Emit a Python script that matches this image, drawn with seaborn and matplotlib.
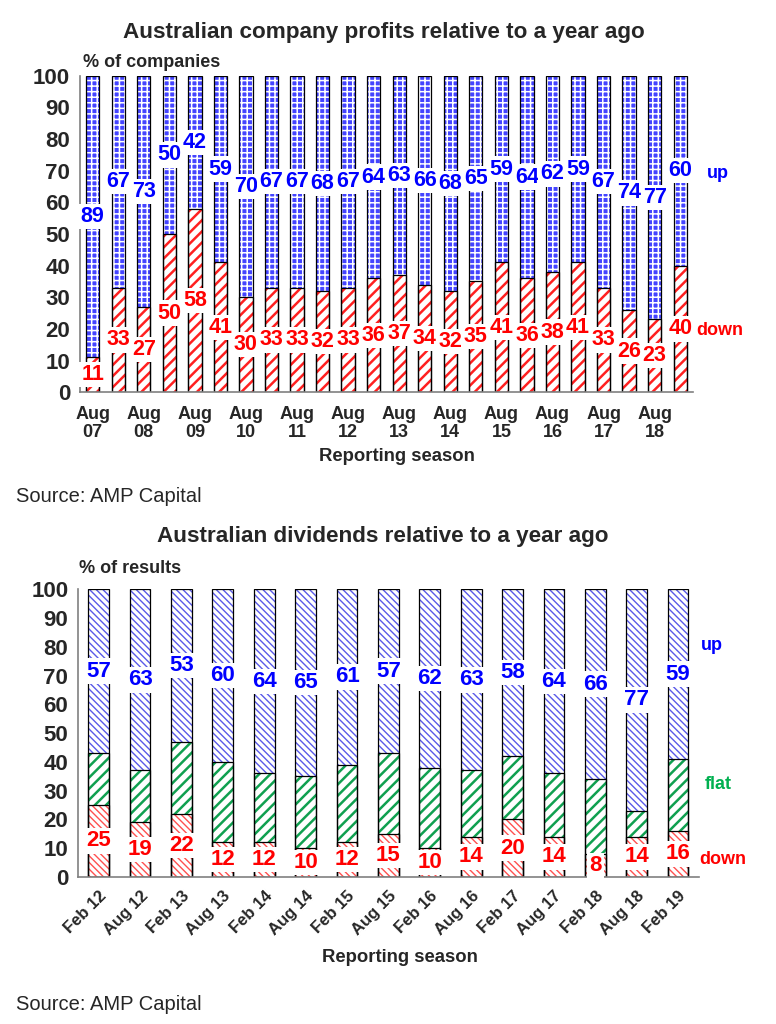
import matplotlib as mpl
import matplotlib.pyplot as plt
import seaborn as sns

sns.set_style("white")
plt.rcParams["font.family"] = ["Liberation Sans", "DejaVu Sans"]

# --- top chart: company profits, % of companies
profit_seasons = ["Aug 07", "Feb 08", "Aug 08", "Feb 09", "Aug 09", "Feb 10", "Aug 10", "Feb 11",
                  "Aug 11", "Feb 12", "Aug 12", "Feb 13", "Aug 13", "Feb 14", "Aug 14", "Feb 15",
                  "Aug 15", "Feb 16", "Aug 16", "Feb 17", "Aug 17", "Feb 18", "Aug 18", "Feb 19"]
profit_down = [11, 33, 27, 50, 58, 41, 30, 33, 33, 32, 33, 36, 37, 34, 32, 35, 41, 36, 38, 41, 33, 26, 23, 40]
profit_up = [89, 67, 73, 50, 42, 59, 70, 67, 67, 68, 67, 64, 63, 66, 68, 65, 59, 64, 62, 59, 67, 74, 77, 60]
profit_ticklabels = ["Aug\n07", "Aug\n08", "Aug\n09", "Aug\n10", "Aug\n11", "Aug\n12",
                     "Aug\n13", "Aug\n14", "Aug\n15", "Aug\n16", "Aug\n17", "Aug\n18"]

# --- bottom chart: dividends, % of results
div_seasons = ["Feb 12", "Aug 12", "Feb 13", "Aug 13", "Feb 14", "Aug 14", "Feb 15", "Aug 15",
               "Feb 16", "Aug 16", "Feb 17", "Aug 17", "Feb 18", "Aug 18", "Feb 19"]
div_down = [25, 19, 22, 12, 12, 10, 12, 15, 10, 14, 20, 14, 8, 14, 16]
div_flat = [18, 18, 25, 28, 24, 25, 27, 28, 28, 23, 22, 22, 26, 9, 25]
div_up = [57, 63, 53, 60, 64, 65, 61, 57, 62, 63, 58, 64, 66, 77, 59]

RED = "#ff0000"
BLUE = "#0000ff"
GREEN = "#00b050"


def layer(ax, cats, vals, face, hatch, hcolor, hlw, width):
    """one hatched layer, drawn back to front"""
    n0 = len(ax.patches)
    with plt.rc_context({"hatch.linewidth": hlw}):
        sns.barplot(x=cats, y=vals, ax=ax, color=face, saturation=1, width=width,
                    hatch=hatch, edgecolor=hcolor, linewidth=0, errorbar=None)
    for p in ax.patches[n0:]:
        if hasattr(p, "set_hatch_linewidth"):
            p.set_hatch_linewidth(hlw)


def outline(ax, cats, vals, width):
    sns.barplot(x=cats, y=vals, ax=ax, color="black", fill=False, width=width,
                linewidth=0.9, errorbar=None)


def label(ax, x, y, s, color, size):
    ax.text(x, y, s, color=color, fontsize=size, fontweight="bold", ha="center", va="center",
            zorder=5, bbox=dict(boxstyle="square,pad=0.1", fc="white", ec="none"))


def style_axis(ax, n):
    ax.set_ylim(0, 100)
    ax.set_xlim(-0.5, n - 0.5)
    ax.set_yticks(range(0, 101, 10))
    ax.set_xlabel("")
    ax.set_ylabel("")
    for s in ["top", "right"]:
        ax.spines[s].set_visible(False)
    for s in ["left", "bottom"]:
        ax.spines[s].set_color("#808080")
        ax.spines[s].set_linewidth(1.2)
    ax.set_xticks([i - 0.5 for i in range(n + 1)], minor=True)
    ax.tick_params(axis="x", which="minor", direction="out", length=5, width=1.2, color="#808080")
    ax.tick_params(axis="y", direction="out", length=5, width=1.2, color="#808080", pad=2,
                   labelsize=16)
    for t in ax.get_yticklabels():
        t.set_fontweight("bold")


fig = plt.figure(figsize=(7.76, 10.24), dpi=100)

# ---------------- top
ax1 = fig.add_axes([0.103, 0.617, 0.790, 0.309])
w1 = 0.52
total1 = [d + u for d, u in zip(profit_down, profit_up)]
layer(ax1, profit_seasons, total1, "#4444ff", "+++", "white", 1.1, w1)
layer(ax1, profit_seasons, profit_down, "white", "///", "#ff2020", 1.8, w1)
outline(ax1, profit_seasons, total1, w1)
outline(ax1, profit_seasons, profit_down, w1)
style_axis(ax1, len(profit_seasons))
ax1.set_xticks(range(0, len(profit_seasons), 2))
ax1.set_xticklabels(profit_ticklabels, fontsize=13, fontweight="bold", linespacing=1.1)
ax1.tick_params(axis="x", which="major", length=0, pad=10)

for i, (d, u) in enumerate(zip(profit_down, profit_up)):
    label(ax1, i, d / 2, str(d), RED, 15.5)
    label(ax1, i, d + u / 2, str(u), BLUE, 15.5)
ax1.text(24.05, 69, "up", color=BLUE, fontsize=13, fontweight="bold", va="center", clip_on=False)
ax1.text(23.62, 19.5, "down", color=RED, fontsize=13, fontweight="bold", va="center", clip_on=False)

fig.text(0.495, 0.968, "Australian company profits relative to a year ago", ha="center", va="center",
         fontsize=16.2, fontweight="bold")
fig.text(0.107, 0.939, "% of companies", ha="left", va="center", fontsize=13, fontweight="bold")
fig.text(0.511, 0.554, "Reporting season", ha="center", va="center", fontsize=13.3, fontweight="bold")
fig.text(0.02, 0.515, "Source: AMP Capital", ha="left", va="center", fontsize=14.5)

# ---------------- bottom
ax2 = fig.add_axes([0.1005, 0.1436, 0.80, 0.281])
w2 = 0.5
total2 = [d + f + u for d, f, u in zip(div_down, div_flat, div_up)]
mid2 = [d + f for d, f in zip(div_down, div_flat)]
layer(ax2, div_seasons, total2, "white", "\\\\\\\\\\", "#5a5ae8", 1.0, w2)
layer(ax2, div_seasons, mid2, "white", "///", "#10a050", 1.8, w2)
layer(ax2, div_seasons, div_down, "white", "\\\\\\\\\\", "#ff5050", 1.0, w2)
outline(ax2, div_seasons, total2, w2)
outline(ax2, div_seasons, mid2, w2)
outline(ax2, div_seasons, div_down, w2)
style_axis(ax2, len(div_seasons))
ax2.set_xticks(range(len(div_seasons)))
ax2.set_xticklabels(div_seasons, fontsize=12, fontweight="bold", rotation=45, ha="right",
                    rotation_mode="anchor")
ax2.tick_params(axis="x", which="major", length=0, pad=8)

for i, (d, f, u) in enumerate(zip(div_down, div_flat, div_up)):
    label(ax2, i, d / 2, str(d), RED, 16)
    label(ax2, i, d + f + u / 2, str(u), BLUE, 16)
ax2.text(14.55, 80.5, "up", color=BLUE, fontsize=13, fontweight="bold", va="center", clip_on=False)
ax2.text(14.65, 32, "flat", color=GREEN, fontsize=13, fontweight="bold", va="center", clip_on=False)
ax2.text(14.5, 6, "down", color=RED, fontsize=13, fontweight="bold", va="center", clip_on=False)

fig.text(0.493, 0.476, "Australian dividends relative to a year ago", ha="center", va="center",
         fontsize=16.2, fontweight="bold")
fig.text(0.102, 0.445, "% of results", ha="left", va="center", fontsize=13, fontweight="bold")
fig.text(0.516, 0.0645, "Reporting season", ha="center", va="center", fontsize=13.3, fontweight="bold")
fig.text(0.02, 0.0186, "Source: AMP Capital", ha="left", va="center", fontsize=14.5)

plt.savefig("out.png", dpi=100)
